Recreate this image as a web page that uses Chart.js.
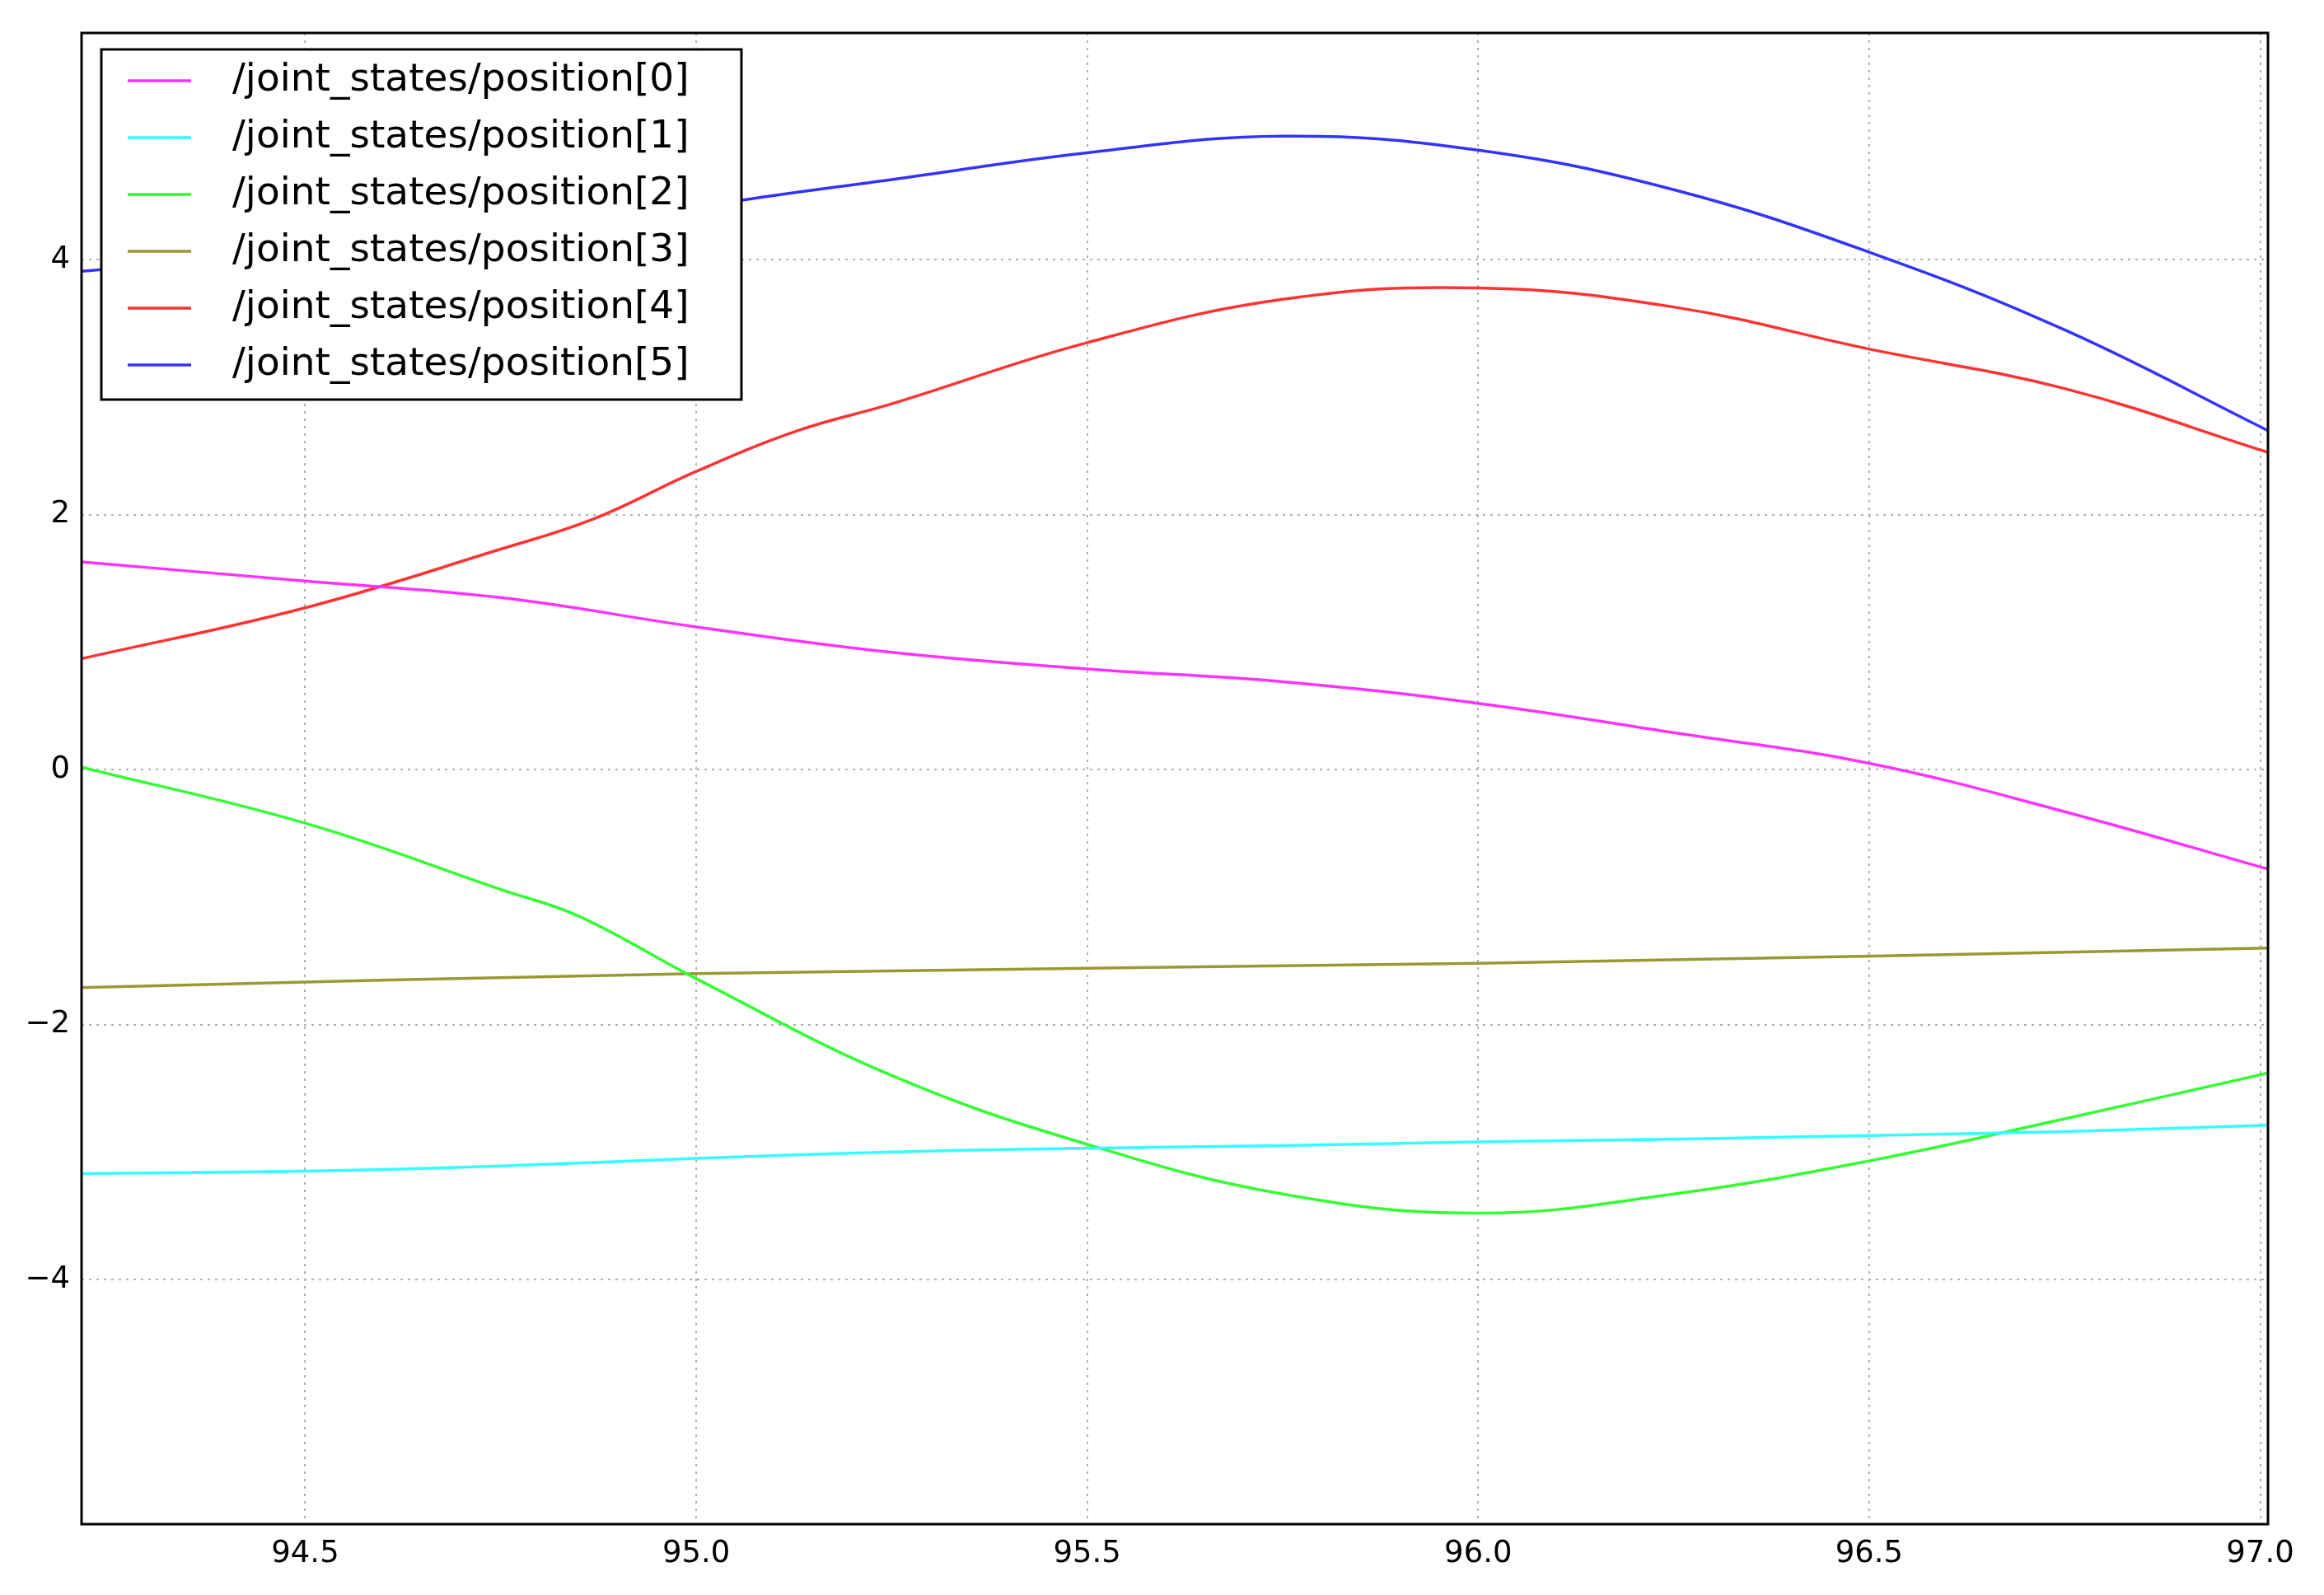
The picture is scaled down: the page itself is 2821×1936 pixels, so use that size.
<!DOCTYPE html>
<html><head><meta charset="utf-8">
<script src="https://cdn.jsdelivr.net/npm/chart.js@4.4.0/dist/chart.umd.min.js"></script>
<style>html,body{margin:0;padding:0;background:#fff}#c{display:block}</style>
</head><body>
<div style="width:2821px;height:1936px"><canvas id="c"></canvas></div>
<script>
const labels = ["/joint_states/position[0]","/joint_states/position[1]","/joint_states/position[2]","/joint_states/position[3]","/joint_states/position[4]","/joint_states/position[5]"];
const colors = ["#ff33ff","#33ffff","#33ff33","#999933","#ff3333","#3333ff"];
const xTicks = [94.5,95.0,95.5,96.0,96.5,97.0];
const yTicks = [-4,-2,0,2,4];
const s0x=[94.214,94.5,94.75,95.0,95.25,95.5,95.75,96.0,96.25,96.5,96.75,97.01];
const s0y=[1.63,1.48,1.35,1.12,0.92,0.79,0.69,0.52,0.29,0.05,-0.33,-0.78];
const s1x=[94.214,94.5,94.75,95.0,95.25,95.5,95.75,96.0,96.25,96.5,96.75,97.01];
const s1y=[-3.17,-3.15,-3.11,-3.05,-3.0,-2.97,-2.95,-2.92,-2.9,-2.87,-2.84,-2.79];
const s2x=[94.214,94.5,94.75,94.85,95.0,95.25,95.5,95.75,96.0,96.25,96.5,96.75,97.01];
const s2y=[0.02,-0.42,-0.94,-1.15,-1.64,-2.4,-2.94,-3.33,-3.48,-3.33,-3.07,-2.74,-2.38];
const s3x=[94.214,95.0,96.0,97.01];
const s3y=[-1.71,-1.6,-1.52,-1.40];
const s4x=[94.214,94.5,94.75,94.87,95.0,95.13,95.25,95.5,95.75,96.0,96.25,96.5,96.75,97.01];
const s4y=[0.87,1.27,1.73,1.97,2.34,2.66,2.87,3.35,3.69,3.78,3.63,3.30,2.99,2.49];
const s5x=[94.214,94.5,94.75,95.0,95.06,95.25,95.5,95.75,96.0,96.25,96.5,96.75,97.01];
const s5y=[3.91,4.05,4.2,4.4,4.47,4.63,4.84,4.97,4.86,4.55,4.06,3.45,2.66];
const xs=[s0x,s1x,s2x,s3x,s4x,s5x], ys=[s0y,s1y,s2y,s3y,s4y,s5y];
const datasets = labels.map((l,i)=>({label:l,data:xs[i].map((x,j)=>({x:x,y:ys[i][j]})),borderColor:colors[i],borderWidth:3.5,pointRadius:0,tension:0.4,fill:false}));
const legendPlugin={id:'mplLegend',afterDraw(chart){
  const ctx=chart.ctx;const x0=123,y0=60,w=777,h=425;
  ctx.save();ctx.fillStyle='#fff';ctx.fillRect(x0,y0,w,h);
  ctx.strokeStyle='#000';ctx.lineWidth=3;ctx.strokeRect(x0,y0,w,h);
  ctx.font='47px "DejaVu Sans"';ctx.textBaseline='middle';
  chart.data.datasets.forEach((d,i)=>{const y=y0+38+i*69;
    ctx.strokeStyle=d.borderColor;ctx.lineWidth=3.5;ctx.beginPath();ctx.moveTo(155,y);ctx.lineTo(232,y);ctx.stroke();
    ctx.fillStyle='#000';ctx.fillText(d.label,282,y);});
  ctx.restore();}};
const borderPlugin={id:'border',afterDatasetsDraw(chart){const a=chart.chartArea,ctx=chart.ctx;ctx.save();ctx.strokeStyle='#000';ctx.lineWidth=3;ctx.strokeRect(a.left,a.top,a.right-a.left,a.bottom-a.top);ctx.restore();}};
new Chart(document.getElementById('c'),{type:'line',data:{datasets},
options:{responsive:true,maintainAspectRatio:false,animation:false,
layout:{padding:{top:40,right:68,left:0,bottom:0}},
plugins:{legend:{display:false},tooltip:{enabled:false}},
scales:{
x:{type:'linear',min:94.214,max:97.01,afterFit(s){s.height=86;},
 afterBuildTicks(s){s.ticks=xTicks.map(v=>({value:v}));},
 ticks:{color:'#000',font:{size:37,family:'DejaVu Sans'},padding:14,callback:v=>v.toFixed(1)},
 grid:{color:'#b0b0b0',lineWidth:2,drawTicks:false},border:{display:false,dash:[3,6]}},
y:{type:'linear',min:-5.92,max:5.78,afterFit(s){s.width=99;},
 afterBuildTicks(s){s.ticks=yTicks.map(v=>({value:v}));},
 ticks:{color:'#000',font:{size:37,family:'DejaVu Sans'},padding:14,callback:v=>String(v).replace('-','\u2212')},
 grid:{color:'#b0b0b0',lineWidth:2,drawTicks:false},border:{display:false,dash:[3,6]}}
}},plugins:[borderPlugin,legendPlugin]});
</script>
</body></html>
